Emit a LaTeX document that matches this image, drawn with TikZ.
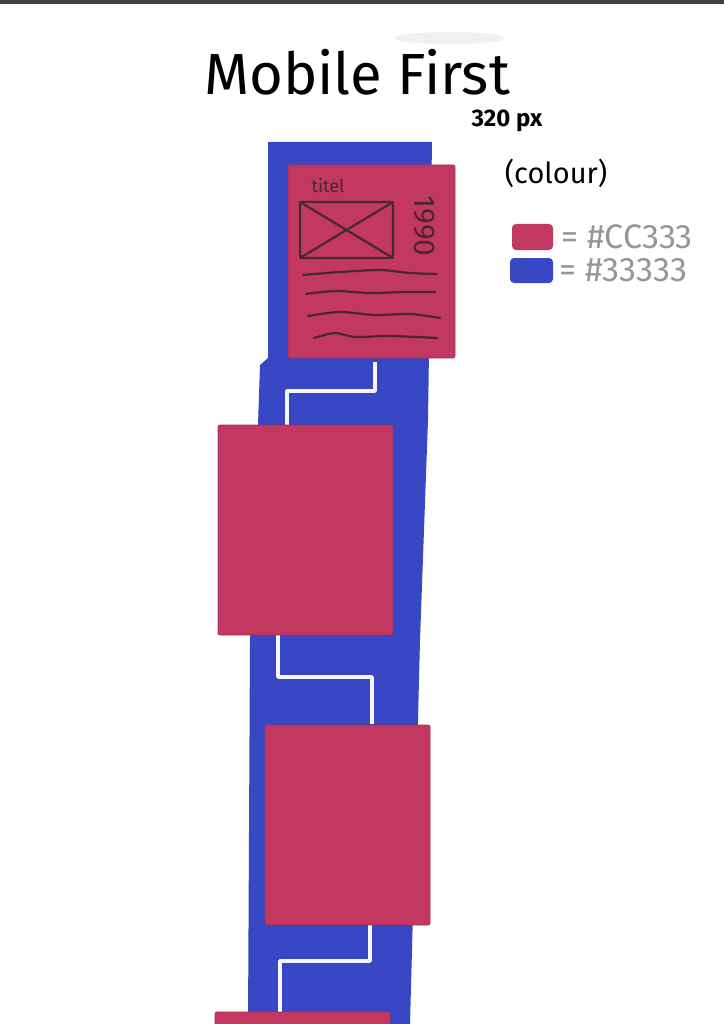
\documentclass[tikz,border=0pt]{standalone}
\usepackage{fontspec}
\setmainfont{Fira Sans}
\definecolor{inkpink}{RGB}{194,56,96}
\definecolor{inkblue}{RGB}{56,72,196}
\definecolor{inkgray}{RGB}{150,150,150}
\definecolor{inkdark}{RGB}{72,40,52}
\tikzset{
  card/.style={fill=inkpink, draw=inkpink!85!black, line width=0.8pt, rounded corners=2pt},
  gap/.style={draw=white!92!inkgray, line width=3.5pt, line join=round},
  pen/.style={draw=inkdark, line width=2.2pt, line cap=round, line join=round},
  swatch/.style={fill=#1, rounded corners=4pt}
}
\begin{document}
\begin{tikzpicture}[x=1pt,y=-1pt]
\useasboundingbox (0,0) rectangle (724,1024);
\fill[white] (0,0) rectangle (724,1024);
\fill[black!75] (0,0) rectangle (724,4);
\fill[black!6] (450,38) ellipse (55 and 6);

\node (title) at (357,72) {\fontsize{58}{58}\selectfont Mobile First};
\node (width) at (507,121) {\fontsize{24}{24}\selectfont\bfseries 320 px};
\node (colour) at (556,173) {\fontsize{29}{29}\selectfont (colour)};

\fill[swatch=inkpink] (512,224) rectangle (553,250);
\fill[swatch=inkblue] (510,258) rectangle (553,283);
\node[text=inkgray, anchor=west] (pinkcode) at (558,237) {\fontsize{34}{34}\selectfont = \#CC333};
\node[text=inkgray, anchor=west] (bluecode) at (556,270) {\fontsize{34}{34}\selectfont = \#33333};

\fill[inkblue] (268,142) -- (432,142) -- (428,420) -- (420,640) -- (416,800)
  -- (410,1024) -- (248,1024) -- (250,640) -- (258,425) -- (260,365) -- (268,358) -- cycle;

\draw[gap] (375,362) -- (375,391) -- (287,391) -- (287,426);
\draw[gap] (278,634) -- (278,677) -- (372,677) -- (372,724);
\draw[gap] (370,924) -- (370,961) -- (280,961) -- (280,1012);

\draw[card] (288,165) rectangle (455,358);
\draw[card] (218,425) rectangle (393,635);
\draw[card] (265,725) rectangle (430,925);
\draw[card] (215,1012) rectangle (390,1030);

\node[text=inkdark] (titel) at (328,186) {\fontsize{18}{18}\selectfont titel};
\draw[pen, rounded corners=3pt] (300,202) rectangle (393,258);
\draw[pen] (300,202) -- (393,258);
\draw[pen] (393,202) -- (300,258);
\node[text=inkdark, rotate=-90] (year) at (424,226) {\fontsize{30}{30}\selectfont 1990};
\draw[pen] plot[smooth] coordinates {(303,275) (340,272) (380,270) (410,273) (437,274)};
\draw[pen] plot[smooth] coordinates {(306,294) (335,291) (370,293) (405,292) (435,292)};
\draw[pen] plot[smooth] coordinates {(308,316) (340,312) (375,315) (410,314) (440,318)};
\draw[pen] plot[smooth] coordinates {(314,338) (335,333) (355,337) (390,336) (437,338)};
\end{tikzpicture}
\end{document}
